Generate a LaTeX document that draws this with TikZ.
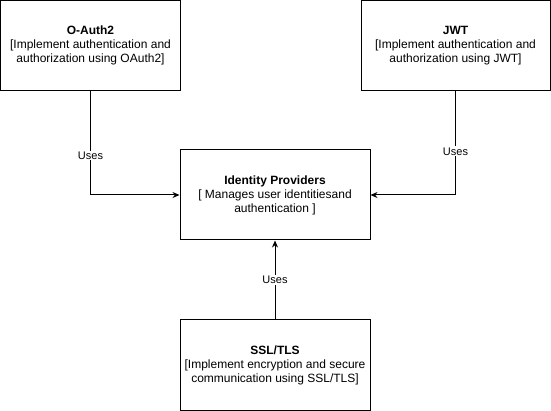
\documentclass[tikz,border=0pt]{standalone}
\usepackage{fontspec}
\setmainfont{Liberation Sans}
\usetikzlibrary{arrows.meta}
\begin{document}
\begin{tikzpicture}[x=1pt,y=-1pt,
  box/.style={draw=black,line width=1pt,minimum width=180pt,minimum height=90pt,align=center,font=\fontsize{12}{14}\selectfont,inner sep=0pt},
  conn/.style={draw=black,line width=1pt,-{Stealth[length=7pt,width=6pt]}},
  lbl/.style={fill=white,font=\fontsize{11}{13}\selectfont,inner sep=1pt}]
\useasboundingbox (0,0) rectangle (551,411);
\fill[white] (0,0) rectangle (551,411);
\node[box] (oauth) at (90.5,45.5) {\textbf{O-Auth2}\\{}[Implement authentication and\\authorization using OAuth2]};
\node[box,minimum width=189pt] (jwt) at (455.5,45.5) {\textbf{JWT}\\{}[Implement authentication and\\authorization using JWT]};
\node[box,minimum width=190pt] (idp) at (275,195) {\textbf{Identity Providers}\\{}[ Manages user identitiesand\\authentication ]};
\node[box,minimum width=190pt] (ssl) at (275,365) {\textbf{SSL/TLS}\\{}[Implement encryption and secure\\communication using SSL/TLS]};
\draw[conn] (oauth.south) |- node[lbl,pos=0.31]{Uses} (idp.west);
\draw[conn] (jwt.south) |- node[lbl,pos=0.29]{Uses} (idp.east);
\draw[conn] (ssl.north) -- node[lbl,pos=0.5]{Uses} (idp.south);
\end{tikzpicture}
\end{document}
